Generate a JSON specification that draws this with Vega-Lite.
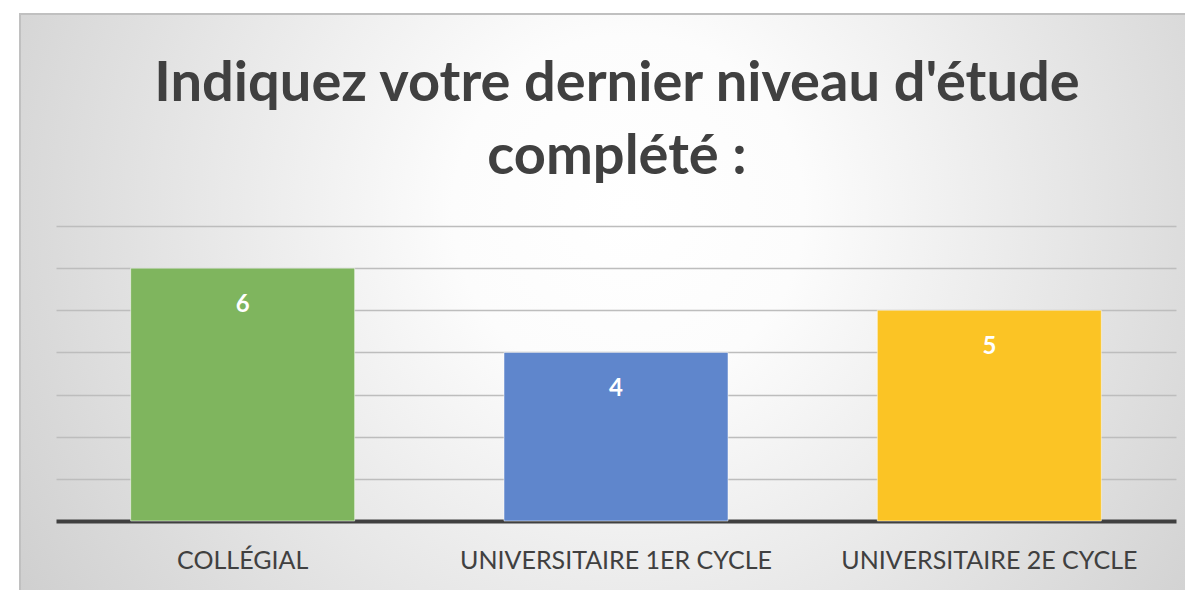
{
  "$schema": "https://vega.github.io/schema/vega-lite/v6.json",
  "width": 1170,
  "height": 580,
  "autosize": {"type": "none"},
  "padding": {"left": 20, "top": 14, "right": 0, "bottom": 0},
  "background": "white",
  "title": {
    "text": ["Indiquez votre dernier niveau d'étude", "complété :"],
    "font": "Lato",
    "fontSize": 56,
    "fontWeight": "bold",
    "color": "#404040",
    "anchor": "middle",
    "frame": "group",
    "offset": -172,
    "lineHeight": 73,
    "dx": 12
  },
  "config": {
    "view": {
      "fill": {
        "gradient": "radial",
        "x1": 0.52, "y1": 0.42, "r1": 0,
        "x2": 0.52, "y2": 0.42, "r2": 0.75,
        "stops": [
          {"offset": 0, "color": "#ffffff"},
          {"offset": 0.2, "color": "#fcfcfc"},
          {"offset": 1, "color": "#c2c2c2"}
        ]
      },
      "stroke": "#c0c0c0",
      "strokeWidth": 2
    }
  },
  "data": {
    "values": [
      {"niveau": "COLLÉGIAL", "n": 6},
      {"niveau": "UNIVERSITAIRE 1ER CYCLE", "n": 4},
      {"niveau": "UNIVERSITAIRE 2E CYCLE", "n": 5}
    ]
  },
  "encoding": {
    "x": {
      "field": "niveau",
      "type": "nominal",
      "sort": null,
      "scale": {"range": [36, 1156], "paddingInner": 0.4, "paddingOuter": 0.2},
      "axis": {
        "title": null,
        "orient": "bottom",
        "offset": -73,
        "domainColor": "#404040",
        "domainWidth": 4,
        "ticks": false,
        "labelAngle": 0,
        "labelLimit": 0,
        "labelFont": "Lato",
        "labelFontSize": 25,
        "labelColor": "#404040",
        "labelPadding": 27
      }
    },
    "y": {
      "field": "n",
      "type": "quantitative",
      "scale": {"domain": [-1.732, 12.03], "nice": false, "zero": false},
      "axis": {
        "values": [1, 2, 3, 4, 5, 6, 7],
        "grid": true,
        "gridColor": "#bdbdbd",
        "gridWidth": 1.5,
        "domain": false,
        "ticks": false,
        "labels": false,
        "title": null
      }
    }
  },
  "layer": [
    {
      "mark": {"type": "bar", "fillOpacity": 1, "stroke": "#ffffff", "strokeWidth": 1, "strokeOpacity": 0.5},
      "encoding": {
        "color": {
          "field": "niveau",
          "type": "nominal",
          "sort": null,
          "scale": {"range": ["#7fb55e", "#5f86cc", "#fbc425"]},
          "legend": null
        }
      }
    },
    {
      "mark": {"type": "text", "dy": 37, "font": "Lato", "fontWeight": "bold", "fontSize": 24, "color": "#ffffff", "baseline": "middle"},
      "encoding": {"text": {"field": "n", "type": "quantitative"}}
    }
  ]
}
